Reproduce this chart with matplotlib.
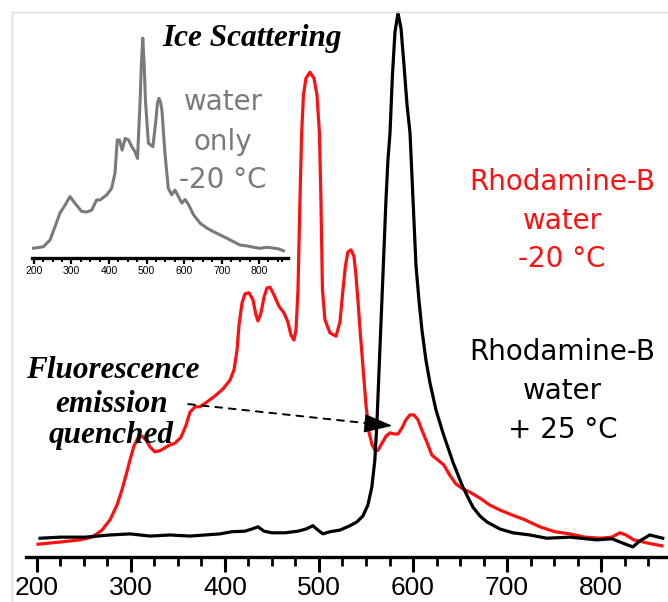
import matplotlib
matplotlib.use("Agg")
import matplotlib.pyplot as plt
from matplotlib.lines import Line2D

# Emission spectra (wavelength in nm, intensity in arbitrary units)
red_nm = [201.4, 224.8, 246.0, 258.8, 269.4, 277.9, 285.3, 290.6, 294.9, 299.1,
          303.4, 307.7, 311.9, 316.2, 320.4, 325.7, 332.1, 339.5, 347.0, 353.3,
          358.7, 362.9, 368.2, 373.5, 381.0, 389.5, 398.0, 405.4, 409.7, 412.9,
          415.0, 418.2, 421.4, 425.6, 429.9, 433.0, 435.2, 438.4, 441.6, 444.8,
          448.0, 452.2, 457.5, 462.8, 467.0, 470.2, 473.4, 475.6, 477.7, 479.8,
          481.6, 483.5, 486.2, 490.4, 494.7, 497.9, 500.5, 502.1, 503.7, 506.4,
          511.7, 518.1, 522.3, 525.5, 528.2, 530.8, 534.0, 537.2, 539.3, 541.4,
          544.1, 546.8, 550.0, 553.2, 556.4, 559.6, 562.8, 567.0, 571.3, 575.5,
          579.7, 584.0, 588.2, 592.4, 596.7, 601.0, 605.2, 609.4, 614.7, 620.0,
          626.4, 632.7, 639.1, 645.5, 651.9, 660.3, 671.0, 681.6, 692.3, 705.0,
          718.8, 734.8, 750.7, 766.7, 782.6, 798.6, 811.3, 819.8, 826.2, 834.7,
          849.6, 864.5]
red_int = [23, 27, 31, 36, 49, 68, 95, 123, 150, 178,
           204, 219, 222, 215, 202, 193, 196, 204, 209, 220,
           242, 266, 276, 276, 285, 296, 309, 325, 344, 380,
           426, 467, 484, 486, 473, 445, 434, 449, 478, 495,
           496, 482, 461, 449, 432, 408, 399, 417, 491, 657,
           780, 850, 881, 892, 881, 850, 780, 657, 491, 436,
           412, 406, 432, 491, 537, 561, 565, 553, 518, 472,
           408, 349, 279, 229, 206, 196, 196, 209, 222, 228,
           226, 226, 237, 252, 261, 261, 252, 233, 211, 187,
           178, 169, 150, 134, 126, 119, 108, 95, 86, 77,
           68, 55, 46, 42, 36, 34, 36, 44, 40, 31,
           25, 20]

black_nm = [203.5, 224.8, 251.3, 277.9, 299.1, 320.4, 341.7, 362.9, 378.9, 394.8,
            407.5, 421.4, 428.8, 435.2, 441.6, 450.1, 463.9, 477.7, 486.2, 493.6,
            498.9, 504.2, 511.7, 522.3, 532.9, 540.3, 546.7, 552.0, 556.2, 559.4,
            561.6, 564.3, 566.9, 569.1, 571.2, 573.3, 575.5, 578.1, 580.8, 584.0,
            587.2, 590.4, 593.6, 596.8, 600.0, 603.1, 606.3, 609.5, 613.7, 618.0,
            624.4, 631.8, 642.4, 653.0, 663.7, 671.1, 678.5, 692.3, 706.1, 724.2,
            742.2, 766.7, 795.4, 811.3, 823.0, 833.6, 841.0, 851.6, 865.4]
black_int = [34, 36, 36, 40, 42, 38, 40, 38, 40, 42,
             46, 47, 51, 55, 47, 44, 44, 47, 51, 57,
             49, 42, 46, 49, 57, 64, 75, 95, 128, 178,
             246, 362, 472, 565, 656, 730, 780, 887, 966, 1001,
             973, 905, 832, 780, 656, 537, 472, 417, 362, 320,
             270, 228, 174, 128, 91, 75, 64, 51, 44, 40,
             34, 36, 31, 33, 25, 18, 29, 40, 34]

ice_nm = [196, 225, 243, 256, 269, 283, 296, 309, 327, 341, 354, 367, 376, 394,
          407, 416, 422, 428, 435, 443, 452, 461, 469, 476, 483, 486, 490, 494,
          497, 505, 517, 525, 529, 533, 537, 541, 549, 558, 567, 576, 585, 594,
          603, 612, 625, 643, 661, 678, 696, 714, 732, 749, 767, 785, 803, 821,
          838, 851, 865]
ice_int = [44, 51, 82, 142, 203, 241, 279, 250, 212, 209, 218, 264, 264, 287,
           317, 386, 537, 537, 491, 544, 537, 506, 484, 453, 719, 870, 1000, 870,
           719, 522, 506, 628, 704, 726, 711, 673, 478, 317, 288, 309, 279, 250,
           266, 243, 197, 158, 136, 120, 105, 90, 74, 59, 55, 49, 44, 49,
           45, 42, 33]

major_ticks = [200, 300, 400, 500, 600, 700, 800]
minor_ticks = [225, 250, 275, 325, 350, 375, 425, 450, 475, 525, 550, 575,
               625, 650, 675, 725, 750, 775, 825, 850]

W, H = 668, 602
fig = plt.figure(figsize=(W / 100, H / 100), dpi=100)


def fx(px):
    return px / W


def fy(py):
    return 1 - py / H


# thin grey frame on the left and top
fig.add_artist(Line2D([fx(11.5), fx(11.5)], [0, fy(12)], color="#dcdcdc", lw=1))
fig.add_artist(Line2D([fx(11.5), 1], [fy(12), fy(12)], color="#dcdcdc", lw=1))

# main spectra
ax = fig.add_axes([fx(26), fy(556.7), fx(668) - fx(26), fy(0) - fy(556.7)])
ax.plot(red_nm, red_int, color="#ff1010", lw=2.3, solid_joinstyle="round")
ax.plot(black_nm, black_int, color="black", lw=2.3, solid_joinstyle="round")
ax.set_xlim(188.6, 871)
ax.set_ylim(0, 1025)
for s in ("left", "right", "top"):
    ax.spines[s].set_visible(False)
ax.spines["bottom"].set_linewidth(2.4)
ax.set_yticks([])
ax.set_xticks(major_ticks)
ax.set_xticks(minor_ticks, minor=True)
ax.tick_params(axis="x", which="major", direction="out", length=11, width=2.2,
               pad=3, labelsize=19)
ax.tick_params(axis="x", which="minor", direction="out", length=6.5, width=2.0)
for lab in ax.get_xticklabels():
    lab.set_fontfamily("Liberation Sans")
ax.patch.set_alpha(0)

# inset: water only
ins = fig.add_axes([fx(31.7), fy(258), fx(288) - fx(31.7), fy(30) - fy(258)])
ins.plot(ice_nm, ice_int, color="#7a7a7a", lw=2.2, solid_joinstyle="round")
ins.set_xlim(194, 877)
ins.set_ylim(0, 1037)
for s in ("left", "right", "top"):
    ins.spines[s].set_visible(False)
ins.spines["bottom"].set_linewidth(2.4)
ins.set_yticks([])
ins.set_xticks(major_ticks)
ins.set_xticks(minor_ticks + [862], minor=True)
ins.tick_params(axis="x", which="major", direction="out", length=4, width=1.6,
                pad=1.5, labelsize=7.5)
ins.tick_params(axis="x", which="minor", direction="out", length=3, width=1.4)
for lab in ins.get_xticklabels():
    lab.set_fontfamily("Liberation Sans")
ins.patch.set_alpha(0)

serif_bi = dict(family="Liberation Serif", weight="bold", style="italic",
                size=22.5, color="black", ha="center", va="baseline")
sans = dict(family="DejaVu Sans", size=20, ha="center", va="baseline")

fig.text(fx(252.5), fy(46), "Ice Scattering", **serif_bi)
fig.text(fx(113), fy(378), "Fluorescence", **serif_bi)
fig.text(fx(111.5), fy(412), "emission", **serif_bi)
fig.text(fx(111.5), fy(443), "quenched", **serif_bi)

for txt, y in (("water", 110), ("only", 150), ("-20 °C", 188)):
    fig.text(fx(223), fy(y), txt, color="#7a7a7a", **sans)
for txt, y in (("Rhodamine-B", 190), ("water", 229), ("-20 °C", 267)):
    fig.text(fx(562), fy(y), txt, color="#ff1010", **sans)
for txt, y in (("Rhodamine-B", 360), ("water", 399), ("+ 25 °C", 438)):
    fig.text(fx(562.5), fy(y), txt, color="black", **sans)

# dashed pointer from the label to the quenched band
start = (361, 281)
tip = (578, 241)
ax.annotate("", xy=(566, 243), xytext=start,
            arrowprops=dict(arrowstyle="-", color="black", lw=1.4,
                            linestyle=(0, (3.5, 3.5)), shrinkA=0, shrinkB=0))
ax.annotate("", xy=tip, xytext=(562, 243.5),
            arrowprops=dict(arrowstyle="-|>,head_length=1.0,head_width=0.33",
                            color="black", lw=1.0, mutation_scale=18,
                            shrinkA=0, shrinkB=0))

fig.savefig("out.png", dpi=100)
